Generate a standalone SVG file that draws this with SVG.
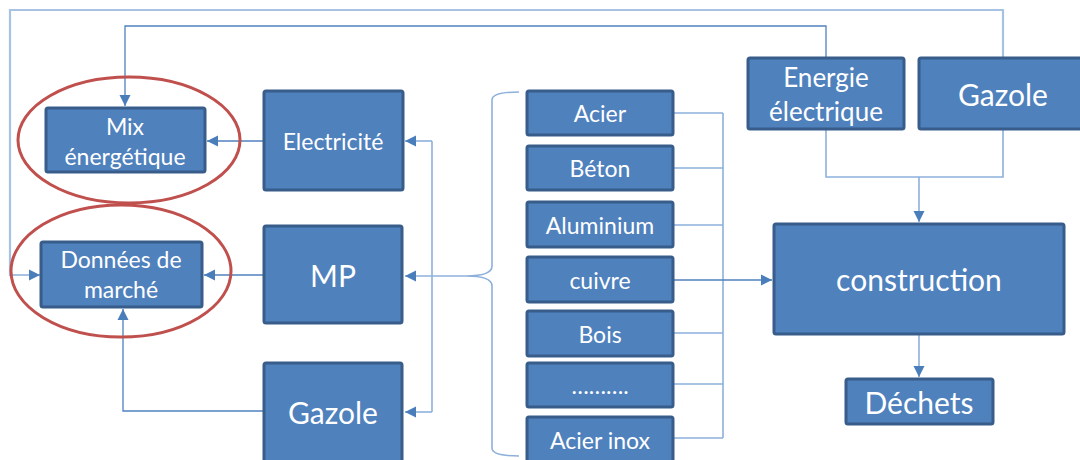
<svg xmlns="http://www.w3.org/2000/svg" width="1080" height="460" viewBox="0 0 1080 460">
<style>
.box{fill:#4F81BD;stroke:#385D8A;stroke-width:3}
.t{fill:#fff;font-family:Lato,"Open Sans","Liberation Sans",sans-serif;text-anchor:middle;dominant-baseline:central}
.s{font-size:23px}
.ln{fill:none;stroke:#4F81BD;stroke-width:1.3}
.lt{fill:none;stroke:#8DB0DB;stroke-width:1.6}
.fr{fill:none;stroke:#A7C2E3;stroke-width:2.2}
.ell{fill:none;stroke:#C0504D;stroke-width:3}
</style>
<defs>
<marker id="ah" markerUnits="userSpaceOnUse" markerWidth="12" markerHeight="12" refX="11" refY="6" orient="auto">
<path d="M0,0.5 L11,6 L0,11.5 Z" fill="#4A7EBB"/>
</marker>
</defs>
<rect width="1080" height="460" fill="#fff"/>
<g id="connectors">
<path class="fr" d="M1003,58 V10 H10 V275 H40" marker-end="url(#ah)"/>
<path class="ln" d="M826,58 V26 H125 V106" marker-end="url(#ah)"/>
<path class="ln" d="M263,141 H207" marker-end="url(#ah)"/>
<path class="ln" d="M263,275 H204" marker-end="url(#ah)"/>
<path class="ln" d="M263,411 H123 V309" marker-end="url(#ah)"/>
<path class="lt" d="M432,141 V412"/>
<path class="lt" d="M432,141 H405" marker-end="url(#ah)"/>
<path class="lt" d="M432,412 H405" marker-end="url(#ah)"/>
<path class="lt" d="M466,276 H405" marker-end="url(#ah)"/>
<path class="lt" d="M519,92 Q492,92 492,100 V266 Q492,276 466,276 Q492,276 492,286 V448 Q492,456 519,456"/>
<path class="lt" d="M673,113 H723 M673,168 H723 M673,225 H723 M673,333 H723 M673,384 H723 M673,438 H723 M723,113 V438"/>
<path class="ln" d="M673,280 H772" marker-end="url(#ah)"/>
<path class="lt" d="M826,129 V177 H1003 V129"/>
<path class="lt" d="M919,177 V222" marker-end="url(#ah)"/>
<path class="lt" d="M919,334 V377" marker-end="url(#ah)"/>
</g>
<g id="mix"><rect class="box" x="46" y="108" width="159" height="64" rx="2"/>
<text class="t s" x="125" y="126">Mix</text><text class="t s" x="125" y="156">énergétique</text></g>
<g id="donnees"><rect class="box" x="41" y="242" width="161" height="65" rx="2"/>
<text class="t s" x="121" y="259">Données de</text><text class="t s" x="121" y="289">marché</text></g>
<g id="electricite"><rect class="box" x="264" y="91" width="139" height="99" rx="2"/><text class="t s" x="333" y="141">Electricité</text></g>
<g id="mp"><rect class="box" x="264" y="226" width="138" height="97" rx="2"/><text class="t" x="333" y="275" font-size="30">MP</text></g>
<g id="gazole1"><rect class="box" x="264" y="363" width="138" height="110" rx="2"/><text class="t" x="333" y="412" font-size="30">Gazole</text></g>
<g id="acier"><rect class="box" x="527" y="91" width="146" height="44" rx="2"/><text class="t s" x="600" y="113">Acier</text></g>
<g id="beton"><rect class="box" x="527" y="146" width="146" height="44" rx="2"/><text class="t s" x="600" y="168">Béton</text></g>
<g id="aluminium"><rect class="box" x="527" y="202" width="146" height="45" rx="2"/><text class="t s" x="600" y="225">Aluminium</text></g>
<g id="cuivre"><rect class="box" x="527" y="257" width="146" height="45" rx="2"/><text class="t s" x="600" y="280">cuivre</text></g>
<g id="bois"><rect class="box" x="527" y="311" width="146" height="45" rx="2"/><text class="t s" x="600" y="334">Bois</text></g>
<g id="etc"><rect class="box" x="527" y="363" width="146" height="44" rx="2"/><text class="t s" x="600" y="385">……….</text></g>
<g id="inox"><rect class="box" x="527" y="417" width="146" height="45" rx="2"/><text class="t s" x="600" y="440">Acier inox</text></g>
<g id="energie"><rect class="box" x="748" y="58" width="156" height="71" rx="2"/>
<text class="t" x="826" y="77" font-size="26">Energie</text><text class="t" x="826" y="111" font-size="26">électrique</text></g>
<g id="gazole2"><rect class="box" x="919" y="58" width="168" height="71" rx="2"/><text class="t" x="1003" y="94" font-size="30">Gazole</text></g>
<g id="construction"><rect class="box" x="774" y="224" width="290" height="110" rx="2"/><text class="t" x="919" y="279" font-size="30">construction</text></g>
<g id="dechets"><rect class="box" x="846" y="379" width="147" height="45" rx="2"/><text class="t" x="919" y="402" font-size="30">Déchets</text></g>
<g id="highlights">
<ellipse class="ell" cx="129" cy="140" rx="111" ry="63"/>
<ellipse class="ell" cx="121" cy="271" rx="110" ry="66"/>
</g>
</svg>
